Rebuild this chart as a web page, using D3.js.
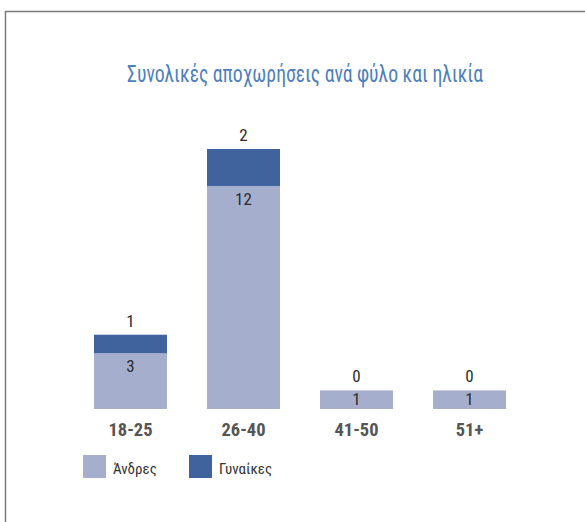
<!DOCTYPE html>
<html>
<head>
<meta charset="utf-8">
<script src="https://cdn.jsdelivr.net/npm/d3@7"></script>
<style>
	body { margin: 0; background: #fff; }
	text { font-family: "Roboto Condensed", "DejaVu Sans Condensed", sans-serif; }
</style>
</head>
<body>
<div id="chart"></div>
<script>
// chart data
const CATEGORIES = ["18-25", "26-40", "41-50", "51+"]
const MEN = [3, 12, 1, 1]
const WOMEN = [1, 2, 0, 0]
const SERIES_NAMES = ["Άνδρες", "Γυναίκες"]
const TITLE = "Συνολικές αποχωρήσεις ανά φύλο και ηλικία"

const COLORS = ["#a6aece", "#40629d"]
let width = 585
let height = 522

let svg = d3.select("#chart").append("svg")
	.attr("width", width)
	.attr("height", height)

//frame round the chart (runs off the right and bottom edges)
svg.append("rect")
	.attr("x", 5.5).attr("y", 11.5)
	.attr("width", width).attr("height", height)
	.attr("fill", "none").attr("stroke", "#7a7a7a").attr("stroke-width", 1.5)

svg.append("text")
	.attr("x", 305).attr("y", 82)
	.attr("text-anchor", "middle")
	.attr("font-size", 24)
	.attr("fill", "#4f7fbd")
	.attr("textLength", 356).attr("lengthAdjust", "spacingAndGlyphs")
	.text(TITLE)

//scales
let pad = 40 / 113
let xScale = d3.scaleBand().domain(CATEGORIES).range([74, 526]).paddingInner(pad).paddingOuter(pad / 2)
let yScale = d3.scaleLinear().domain([0, 14]).range([409, 149])

//stack the two series
let rows = CATEGORIES.map((c, i) => ({cat: c, men: MEN[i], women: WOMEN[i]}))
let stacked = d3.stack().keys(["men", "women"])(rows)

let groups = svg.append("g").selectAll("g").data(stacked).enter().append("g")
	.attr("fill", (d, i) => COLORS[i])

groups.selectAll("rect").data(d => d).enter().append("rect")
	.attr("x", d => xScale(d.data.cat))
	.attr("width", xScale.bandwidth())
	.attr("y", d => yScale(d[1]))
	.attr("height", d => yScale(d[0]) - yScale(d[1]))

//men labels inside the top of the bar
svg.append("g").selectAll("text").data(stacked[0]).enter().append("text")
	.attr("x", d => xScale(d.data.cat) + xScale.bandwidth() / 2)
	.attr("y", d => Math.min(yScale(d[1]) + 19, yScale(d[0]) - 4))
	.attr("text-anchor", "middle").attr("font-size", 17).attr("fill", "#2b2b2b")
	.text(d => d.data.men)

//women labels above the bar
svg.append("g").selectAll("text").data(stacked[1]).enter().append("text")
	.attr("x", d => xScale(d.data.cat) + xScale.bandwidth() / 2)
	.attr("y", d => yScale(d[1]) - 8)
	.attr("text-anchor", "middle").attr("font-size", 17).attr("fill", "#2b2b2b")
	.text(d => d.data.women)

//category axis
let xAxis = d3.axisBottom(xScale).tickSize(0).tickPadding(0)
let axisG = svg.append("g").attr("transform", "translate(0,423)").call(xAxis)
axisG.select(".domain").remove()
axisG.selectAll("text")
	.attr("font-size", 18.5).attr("font-weight", "bold").attr("fill", "#555")
	.attr("font-family", "'Open Sans Condensed', 'Roboto Condensed', sans-serif")

//legend
let legendX = [83, 189]
let legend = svg.append("g").selectAll("g").data(SERIES_NAMES).enter().append("g")
	.attr("transform", (d, i) => "translate(" + legendX[i] + ",455)")
legend.append("rect").attr("width", 23).attr("height", 23).attr("fill", (d, i) => COLORS[i])
legend.append("text").attr("x", 30).attr("y", 19)
	.attr("font-size", 15).attr("fill", "#333")
	.text(d => d)
</script>
</body>
</html>
